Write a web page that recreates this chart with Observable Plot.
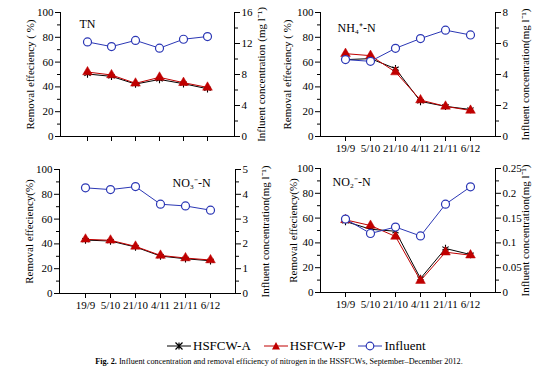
<!DOCTYPE html>
<html><head><meta charset="utf-8">
<script src="https://cdn.jsdelivr.net/npm/d3@7"></script>
<script src="https://cdn.jsdelivr.net/npm/@observablehq/plot@0.6"></script>
<style>
body{margin:0;background:#fff;}
#wrap{position:relative;width:554px;height:375px;overflow:hidden;background:#fff;font-family:"Liberation Serif","Times New Roman",serif;}
.panel{position:absolute;}
#legend{position:absolute;left:167px;top:338px;display:flex;align-items:center;font-size:13px;color:#000;white-space:nowrap;}
#legend .item{display:flex;align-items:center;margin-right:13px;}
#legend svg{margin-right:2px;}
#caption{position:absolute;left:0;width:558px;top:357px;text-align:center;font-size:8.2px;color:#000;white-space:nowrap;}
</style></head><body><div id="wrap"></div>
<script>
const dates = ["19/9","5/10","21/10","4/11","21/11","6/12"];

const tnA   = [50.4, 48.5, 42.3, 46.0, 42.6, 38.5];
const tnP   = [52.0, 49.6, 42.9, 47.7, 43.4, 39.6];
const tnInf = [12.2, 11.6, 12.4, 11.4, 12.55, 12.9];

const nh4A   = [62.0, 62.8, 54.7, 28.3, 24.3, 21.8];
const nh4P   = [66.8, 65.2, 52.0, 29.4, 24.3, 21.0];
const nh4Inf = [4.96, 4.85, 5.69, 6.32, 6.86, 6.55];

const no3A   = [43.1, 42.3, 37.5, 30.2, 28.0, 26.4];
const no3P   = [43.7, 42.9, 38.0, 30.7, 28.6, 27.0];
const no3Inf = [4.26, 4.19, 4.31, 3.60, 3.53, 3.36];

const no2A   = [57.3, 51.0, 49.4, 11.3, 35.5, 30.6];
const no2P   = [58.6, 54.0, 45.2, 9.6, 32.5, 30.1];
const no2Inf = [0.148, 0.119, 0.132, 0.114, 0.178, 0.213];

const leftTicks = [0, 20, 40, 60, 80, 100];
const tnRightTicks  = [0, 4, 8, 12, 16];
const nh4RightTicks = [0, 2, 4, 6, 8];
const no3RightTicks = [0, 1, 2, 3, 4, 5];
const no2RightTicks = [0, 0.05, 0.1, 0.15, 0.2, 0.25];

const seriesNames = ["HSFCW-A", "HSFCW-P", "Influent"];

const colA = "#000000", colP = "#c00000", colInf = "#2b37b5";
const FONT = "'Liberation Serif', 'Times New Roman', serif";

const panels = [
  {label:"TN", a:tnA, p:tnP, inf:tnInf, rticks:tnRightTicks,
   left:0, top:0, w:277, h:150, mt:12, mr:43, mb:14, ml:60, showX:false,
   lt:"Removal effeciency ( %)", rt:"Influent concentration (mg l\u207B\u00B9)", ldx:-30, rdx:27, lbx:19, lby:12},
  {label:"NH\u2084\u207A-N", a:nh4A, p:nh4P, inf:nh4Inf, rticks:nh4RightTicks,
   left:277, top:0, w:277, h:158, mt:12, mr:59, mb:22, ml:43, showX:true,
   lt:"Removal effeciency ( %)", rt:"Influent concentration(mg l\u207B\u00B9)", ldx:-33, rdx:30, lbx:17, lby:16},
  {label:"NO\u2083\u207B-N", a:no3A, p:no3P, inf:no3Inf, rticks:no3RightTicks,
   left:0, top:150, w:277, h:170, mt:19, mr:42, mb:27, ml:59, showX:true,
   lt:"Removal effeciency(%)", rt:"Influent concentration(mg l\u207B\u00B9)", ldx:-30, rdx:30, lbx:113, lby:14},
  {label:"NO\u2082\u207B-N", a:no2A, p:no2P, inf:no2Inf, rticks:no2RightTicks,
   left:277, top:150, w:277, h:170, mt:18, mr:59, mb:28, ml:43, showX:true,
   lt:"Removal effeciency(%)", rt:"Influent concentration(mg l\u207B\u00B9)", ldx:-27, rdx:30, lbx:12, lby:14}
];

const fmt = v => String(+v.toFixed(3));
const wrap = document.getElementById("wrap");

for (const c of panels) {
  const rmax = c.rticks[c.rticks.length - 1];
  const rows = dates.map((d, i) => ({date: d, a: c.a[i], p: c.p[i], inf: c.inf[i]}));
  const rMinor = c.rticks.slice(1).map((t, i) => (t + c.rticks[i]) / 2);
  const lMinor = leftTicks.slice(1).map((t, i) => (t + leftTicks[i]) / 2);
  const chart = Plot.plot({
    width: c.w, height: c.h,
    marginTop: c.mt, marginRight: c.mr, marginBottom: c.mb, marginLeft: c.ml,
    x: {type: "point", domain: dates, padding: 1, label: null},
    y: {domain: [0, 100], label: null},
    style: {fontFamily: FONT, fontSize: "11px", background: "transparent", color: "#000", overflow: "visible"},
    marks: [
      Plot.frame({anchor: "left", stroke: "#000"}),
      Plot.frame({anchor: "right", stroke: "#000"}),
      Plot.frame({anchor: "bottom", stroke: "#000"}),
      Plot.axisY({ticks: leftTicks, tickSize: 5, tickPadding: 2, label: null}),
      Plot.axisY({ticks: lMinor, tickSize: 3, tickFormat: () => "", label: null}),
      Plot.axisY({anchor: "right", ticks: c.rticks.map(t => t / rmax * 100), tickFormat: d => fmt(d / 100 * rmax), tickSize: 5, tickPadding: 2, label: null}),
      Plot.axisY({anchor: "right", ticks: rMinor.map(t => t / rmax * 100), tickSize: 3, tickFormat: () => "", label: null}),
      Plot.axisX({tickSize: 5, tickPadding: 3, tickFormat: c.showX ? (d => d) : (() => ""), label: null}),
      Plot.text([c.lt], {text: d => d, frameAnchor: "left", dx: c.ldx, rotate: -90, textAnchor: "middle", lineAnchor: "middle", fontSize: 11}),
      Plot.text([c.rt], {text: d => d, frameAnchor: "right", dx: c.rdx, rotate: -90, textAnchor: "middle", lineAnchor: "middle", fontSize: 11}),
      Plot.text([c.label], {text: d => d, frameAnchor: "top-left", dx: c.lbx, dy: c.lby, textAnchor: "start", lineAnchor: "middle", fontSize: 12}),
      Plot.line(rows, {x: "date", y: "a", stroke: colA, strokeWidth: 1}),
      Plot.dot(rows, {x: "date", y: "a", symbol: "asterisk", r: 3.5, stroke: colA, strokeWidth: 1.1}),
      Plot.line(rows, {x: "date", y: "p", stroke: colP, strokeWidth: 1}),
      Plot.dot(rows, {x: "date", y: "p", symbol: "triangle", r: 3.6, fill: colP, stroke: colP, strokeWidth: 0.5}),
      Plot.line(rows, {x: "date", y: d => d.inf / rmax * 100, stroke: colInf, strokeWidth: 1}),
      Plot.dot(rows, {x: "date", y: d => d.inf / rmax * 100, r: 4, fill: "#fff", stroke: colInf, strokeWidth: 1.2})
    ]
  });
  chart.classList.add("panel");
  chart.style.left = c.left + "px";
  chart.style.top = c.top + "px";
  wrap.appendChild(chart);
}

// legend
const legend = document.createElement("div");
legend.id = "legend";
const sym = {
  "HSFCW-A": `<line x1="0" y1="6" x2="24" y2="6" stroke="${colA}"/><path d="M8.5,2.5L15.5,9.5M15.5,2.5L8.5,9.5M12,2.5L12,9.5" stroke="${colA}" stroke-width="1.2"/>`,
  "HSFCW-P": `<line x1="0" y1="6" x2="24" y2="6" stroke="${colP}"/><path d="M12,2L16,9.5L8,9.5Z" fill="${colP}"/>`,
  "Influent": `<line x1="0" y1="6" x2="24" y2="6" stroke="${colInf}"/><circle cx="12" cy="6" r="3.8" fill="#fff" stroke="${colInf}" stroke-width="1.2"/>`
};
for (const name of seriesNames) {
  const it = document.createElement("div");
  it.className = "item";
  it.innerHTML = `<svg width="24" height="12">${sym[name]}</svg><span>${name}</span>`;
  legend.appendChild(it);
}
wrap.appendChild(legend);

const cap = document.createElement("div");
cap.id = "caption";
cap.innerHTML = "<b>Fig. 2.</b> Influent concentration and removal efficiency of nitrogen in the HSSFCWs, September\u2013December 2012.";
wrap.appendChild(cap);
</script>
</body></html>
